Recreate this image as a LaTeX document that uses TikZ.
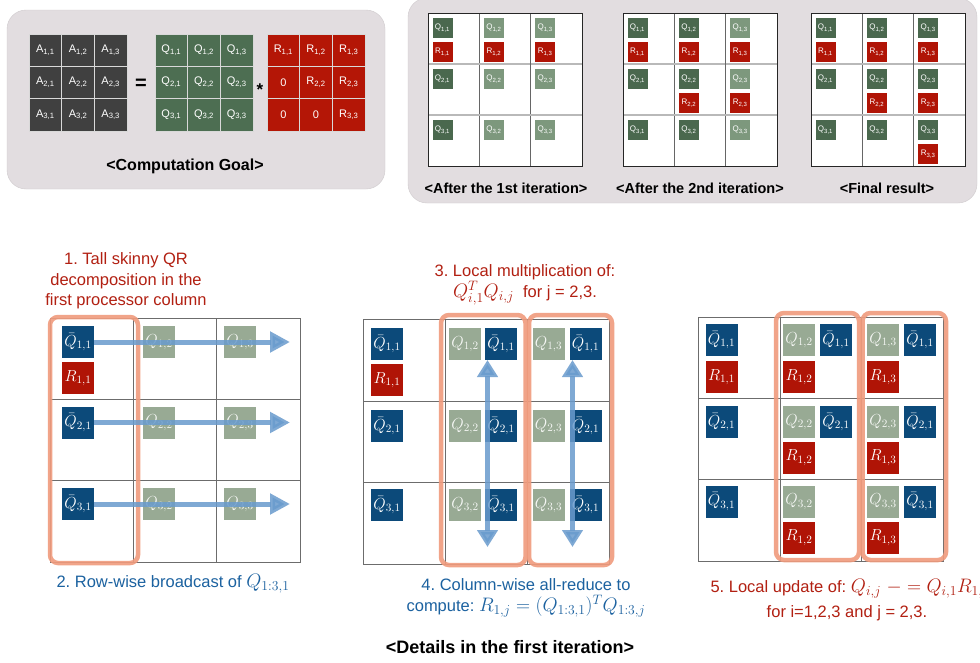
\RequirePackage{fix-cm}
\documentclass[tikz,border=0pt]{standalone}
\usepackage[no-math]{fontspec}
\setmainfont{Liberation Sans}
\usetikzlibrary{arrows.meta}
\definecolor{panelbg}{RGB}{226,221,224}
\definecolor{Agray}{RGB}{64,64,64}
\definecolor{Qgreen}{RGB}{77,110,82}
\definecolor{Rred}{RGB}{180,22,6}
\definecolor{Qdark}{RGB}{74,104,78}
\definecolor{Qlight}{RGB}{125,152,125}
\definecolor{Qbar}{RGB}{12,74,122}
\definecolor{Qpale}{RGB}{152,170,148}
\definecolor{Rbox}{RGB}{176,20,6}
\definecolor{orangeE}{RGB}{240,155,125}
\definecolor{arrowblue}{RGB}{105,155,205}
\definecolor{txtred}{RGB}{178,32,18}
\definecolor{txtblue}{RGB}{28,98,160}
\newcommand\fsz[2]{\fontsize{#1}{#2}\selectfont}
\newcommand\mth[1]{{\fsz{19.5}{20}$#1$}}
\begin{document}
\frenchspacing
\begin{tikzpicture}[x=1pt,y=-1pt,
  mcell/.style={minimum width=32.7pt,minimum height=32.3pt,inner sep=0pt,draw=white!70!gray,line width=0.5pt,text=white,font=\fsz{11}{11}},
  Acell/.style={mcell,fill=Agray},
  Qcell/.style={mcell,fill=Qgreen},
  Rcell/.style={mcell,fill=Rred},
  tbox/.style={minimum size=20pt,inner sep=0pt,text=white,font=\fsz{8}{8}},
  tgv/.style={draw=gray!80!black,line width=0.7pt},
  tgh/.style={draw=gray!55,line width=1.4pt},
  tgo/.style={draw=black!85,line width=1pt},
  glabel/.style={font=\bfseries\fsz{14.5}{15}},
  bq/.style={minimum size=32pt,inner sep=0pt,fill=Qbar,text=white,font=\fsz{16}{16}},
  pq/.style={minimum size=32pt,inner sep=0pt,fill=Qpale,text=white!90!Qpale,font=\fsz{16}{16}},
  rb/.style={minimum size=32pt,inner sep=0pt,fill=Rbox,text=white,font=\fsz{16}{16}},
  gline/.style={draw=gray!85!black,line width=0.8pt},
  obox/.style={draw=orangeE,line width=4.5pt,rounded corners=8pt,opacity=0.9},
  barrow/.style={draw=arrowblue,line width=5pt,opacity=0.85,-{Triangle[length=20pt,width=20pt]}},
  vdarrow/.style={draw=arrowblue,line width=5pt,opacity=0.85,{Triangle[length=17pt,width=20pt]}-{Triangle[length=17pt,width=20pt]}},
  tred/.style={text=txtred,font=\fsz{16.5}{20.5}},
  tblue/.style={text=txtblue,font=\fsz{16.5}{20.5}}]
\useasboundingbox (0,0) rectangle (980,662);
\clip (0,0) rectangle (980,662);
\fill[white] (0,0) rectangle (980,662);
% ---------- top-left panel ----------
\draw[fill=panelbg,draw=panelbg!92!black,line width=0.4pt,rounded corners=19pt] (7,10) rectangle (385,189);
\foreach \r in {1,2,3}{\foreach \c in {1,2,3}{
  \node[Acell] (A\r\c) at ({29+32.7*(\c-0.5)},{34+32.3*(\r-0.5)}) {A\textsubscript{\r,\c}};
  \node[Qcell] (Q\r\c) at ({155+32.7*(\c-0.5)},{34+32.3*(\r-0.5)}) {Q\textsubscript{\r,\c}};
  \node[Rcell] (R\r\c) at ({267+32.7*(\c-0.5)},{34+32.3*(\r-0.5)}) {\ifnum\c<\r\relax 0\else R\textsubscript{\r,\c}\fi};
}}
\node[font=\bfseries\fsz{20}{20}] (eq) at (141,84) {=};
\node[font=\bfseries\fsz{17}{17}] (star) at (260,90) {*};
\node[font=\bfseries\fsz{16}{16}] (goal) at (185,166) {<Computation Goal>};
% ---------- top-right panel ----------
\draw[fill=panelbg,draw=panelbg!92!black,line width=0.4pt,rounded corners=19pt] (408,-2) rectangle (977,203);
\foreach \g/\gx in {1/428,2/623,3/811}{
  \fill[white] (\gx,13) rectangle ++(154,153);
  \foreach \k in {1,2}{
    \draw[tgv] ({\gx+51.33*\k},13) -- ++(0,153);
    \draw[tgh] (\gx,{13+51*\k}) -- ++(154,0);
  }
  \draw[tgo] (\gx,13) rectangle ++(154,153);
  \foreach \r in {1,2,3}{\foreach \c in {1,2,3}{
    \ifnum\c>\g\relax\def\fc{Qlight}\else\def\fc{Qdark}\fi
    \node[tbox,fill=\fc] (g\g q\r\c) at ({\gx+51.33*(\c-1)+14.5},{13+51*(\r-1)+15}) {Q\textsubscript{\r,\c}};
    \ifnum\r>\g\relax\else\ifnum\c<\r\relax\else
      \node[tbox,fill=Rbox] (g\g r\r\c) at ({\gx+51.33*(\c-1)+14.5},{13+51*(\r-1)+39}) {R\textsubscript{\r,\c}};
    \fi\fi
  }}
}
\node[glabel] (lab1) at (506,188) {<After the 1st iteration>};
\node[glabel] (lab2) at (700,188) {<After the 2nd iteration>};
\node[glabel] (lab3) at (887,188) {<Final result>};
% ---------- bottom grids ----------
\draw[gline] (133.3,318) -- (133.3,562) (216.7,318) -- (216.7,562) (50,399.3) -- (300,399.3) (50,480.7) -- (300,480.7);
\draw[gline] (50,318) rectangle (300,562);
\draw[gline] (445,319) -- (445,564) (527,319) -- (527,564) (363,401) -- (609,401) (363,482) -- (609,482);
\draw[gline] (363,319) rectangle (609,564);
\draw[gline] (780,317) -- (780,561) (861.5,317) -- (861.5,561) (698,398) -- (943,398) (698,479.5) -- (943,479.5);
\draw[gline] (698,317) rectangle (943,561);
% orange groups
\draw[obox] (50,317) rectangle (138,563);
\draw[obox] (441,315) rectangle (525.5,565);
\draw[obox] (529,315) rectangle (612,565);
\draw[obox] (776,313) rectangle (859,560);
\draw[obox] (862.5,313) rectangle (946,560);
% left grid boxes
\foreach \r/\yy in {1/342,2/422.5,3/504}{
  \node[bq] (LQb\r) at (78,\yy) {$\bar{Q}_{\r,1}$};
  \node[pq] (LQ\r2) at (159,\yy) {$Q_{\r,2}$};
  \node[pq] (LQ\r3) at (240,\yy) {$Q_{\r,3}$};
  \coordinate (Lend\r) at (290,\yy);
}
\node[rb] (LR11) at (78,378) {$R_{1,1}$};
\foreach \r in {1,2,3}{\draw[barrow] (LQb\r.east) -- (Lend\r);}
% middle grid boxes
\foreach \r/\yy in {1/344,2/426,3/505}{
  \node[bq] (MQb\r) at (387,\yy) {$\bar{Q}_{\r,1}$};
  \node[pq] (MQ\r2) at (465,\yy) {$Q_{\r,2}$};
  \node[bq] (MQb\r2) at (501,\yy) {$\bar{Q}_{\r,1}$};
  \node[pq] (MQ\r3) at (548.5,\yy) {$Q_{\r,3}$};
  \node[bq] (MQb\r3) at (585.5,\yy) {$\bar{Q}_{\r,1}$};
}
\node[rb] (MR11) at (387,380) {$R_{1,1}$};
\coordinate (M2t) at (487.5,360);
\coordinate (M2b) at (487.5,547);
\coordinate (M3t) at (572.5,360);
\coordinate (M3b) at (572.5,547);
\draw[vdarrow] (M2t) -- (M2b);
\draw[vdarrow] (M3t) -- (M3b);
% right grid boxes
\foreach \r/\yy/\ry in {1/340/377,2/422/457.5,3/501.5/537.5}{
  \node[bq] (RQb\r) at (721.5,\yy) {$\bar{Q}_{\r,1}$};
  \node[pq] (RQ\r2) at (799,\yy) {$Q_{\r,2}$};
  \node[pq] (RQ\r3) at (883,\yy) {$Q_{\r,3}$};
  \node[bq] (RQb\r3) at (920,\yy) {$\bar{Q}_{\r,1}$};
  \node[rb] (RR\r2) at (799,\ry) {$R_{1,2}$};
  \node[rb] (RR\r3) at (883,\ry) {$R_{1,3}$};
}
\node[bq] (RQb12) at (836,340) {$\bar{Q}_{1,1}$};
\node[bq] (RQb22) at (836,422) {$\bar{Q}_{2,1}$};
\node[rb] (RR11) at (721.5,377) {$R_{1,1}$};
% ---------- texts ----------
\node[tred,align=center] (t1) at (126,281) {1. Tall skinny QR\\decomposition in the\\first processor column};
\node[tblue,anchor=west] (t2) at (53,584) {2. Row-wise broadcast of \mth{Q_{1:3,1}}};
\node[tred,align=center] (t3) at (525,285) {3. Local multiplication of:\\[1pt]\mth{Q^T_{i,1}Q_{i,j}}~ for j = 2,3.};
\node[tblue,align=center] (t4) at (526,598) {4. Column-wise all-reduce to\\[1pt]compute: \mth{R_{1,j} = (Q_{1:3,1})^TQ_{1:3,j}}};
\node[tred,anchor=west] (t5a) at (707,589) {5. Local update of: \mth{Q_{i,j} \mathrel{-}\;\mathrel{=} Q_{i,1}R_{1,j}}};
\node[tred] (t5b) at (847,613) {for i=1,2,3 and j = 2,3.};
\node[font=\bfseries\fsz{18}{18}] (t6) at (510,647) {<Details in the first iteration>};
\end{tikzpicture}
\end{document}
